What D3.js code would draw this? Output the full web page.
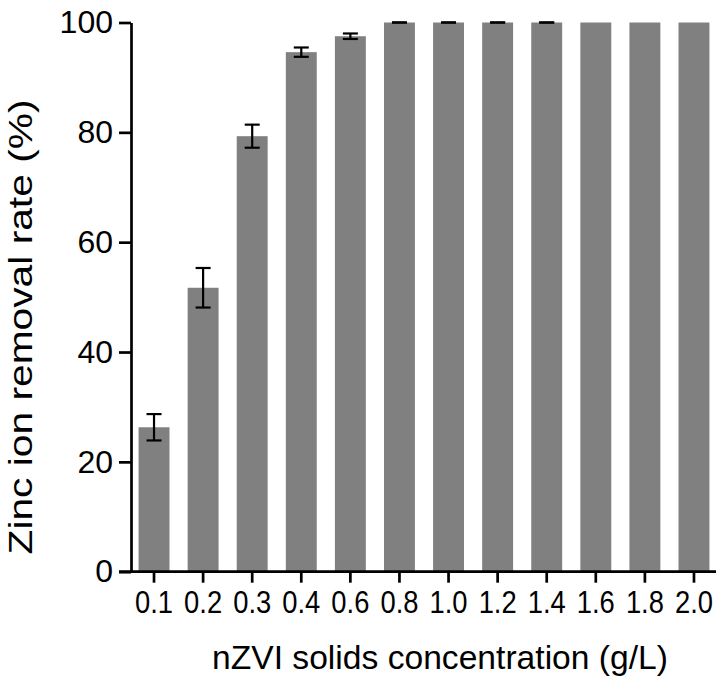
<!DOCTYPE html>
<html>
<head>
<meta charset="utf-8">
<script src="https://cdn.jsdelivr.net/npm/d3@7"></script>
<style>
  html, body { margin: 0; padding: 0; background: #fff; }
  svg { display: block; font-family: "Liberation Sans", Arial, sans-serif; }
</style>
</head>
<body>
<div id="chart"></div>
<script>
// nZVI dose vs zinc removal — bar chart with error bars

const doses = ['0.1', '0.2', '0.3', '0.4', '0.6', '0.8', '1.0', '1.2', '1.4', '1.6', '1.8', '2.0'];
const removal = [26.3, 51.7, 79.3, 94.6, 97.5, 100, 100, 100, 100, 100, 100, 100];
const errors = [2.4, 3.6, 2.1, 0.85, 0.5, 0, 0, 0, 0, null, null, null];
const yTicks = [0, 20, 40, 60, 80, 100];

const width = 727, height = 683;
const font = '"Liberation Sans", Arial, sans-serif';

const svg = d3.select('#chart').append('svg')
  .attr('width', width)
  .attr('height', height);

const y = d3.scaleLinear().domain([0, 100]).range([571.7, 22.5]);
const x = d3.scaleBand().domain(doses).range([120.4, 727.6]).padding(0.37);

// bars
svg.append('g').selectAll('rect')
  .data(doses)
  .join('rect')
  .attr('x', d => x(d))
  .attr('width', x.bandwidth())
  .attr('y', (d, i) => y(removal[i]))
  .attr('height', (d, i) => y(0) - y(removal[i]))
  .attr('fill', '#808080');

// error bars
const capW = 15;
const eb = svg.append('g').attr('stroke', '#000').attr('stroke-width', 2.2)
  .selectAll('g')
  .data(doses.map((d, i) => ({ d, v: removal[i], e: errors[i] })).filter(o => o.e != null))
  .join('g')
  .attr('transform', o => `translate(${x(o.d) + x.bandwidth() / 2},0)`);
eb.append('line')
  .attr('y1', o => y(o.v - o.e)).attr('y2', o => y(o.v + o.e));
eb.append('line')
  .attr('x1', -capW / 2).attr('x2', capW / 2)
  .attr('y1', o => y(o.v + o.e)).attr('y2', o => y(o.v + o.e));
eb.append('line')
  .attr('x1', -capW / 2).attr('x2', capW / 2)
  .attr('y1', o => y(o.v - o.e)).attr('y2', o => y(o.v - o.e));

// y axis
const yAxis = svg.append('g')
  .attr('transform', 'translate(131,0)')
  .call(d3.axisLeft(y).tickValues(yTicks).tickSize(12).tickSizeOuter(0).tickPadding(6));
yAxis.select('.domain').attr('stroke-width', 2.7);
yAxis.selectAll('.tick line').attr('stroke-width', 2.7);
yAxis.selectAll('.tick text')
  .attr('font-size', 32)
  .attr('fill', '#000')
  .attr('font-family', font);

// x axis
const xAxis = svg.append('g')
  .attr('transform', `translate(0,${y(0)})`)
  .call(d3.axisBottom(x).tickSize(11).tickSizeOuter(0).tickPadding(8));
xAxis.select('.domain').remove();
xAxis.append('line')
  .attr('x1', 119).attr('x2', 716)
  .attr('stroke', '#000').attr('stroke-width', 2.7);
xAxis.selectAll('.tick line').attr('stroke-width', 2.7);
xAxis.selectAll('.tick text')
  .attr('font-size', 32)
  .attr('fill', '#000')
  .attr('font-family', font)
  .attr('textLength', 38)
  .attr('lengthAdjust', 'spacingAndGlyphs');

// axis titles
svg.append('text')
  .attr('x', 440).attr('y', 669)
  .attr('text-anchor', 'middle')
  .attr('font-size', 33)
  .attr('textLength', 456)
  .attr('lengthAdjust', 'spacingAndGlyphs')
  .text('nZVI solids concentration (g/L)');

svg.append('text')
  .attr('transform', 'translate(32,327) rotate(-90)')
  .attr('text-anchor', 'middle')
  .attr('font-size', 33)
  .attr('textLength', 455)
  .attr('lengthAdjust', 'spacingAndGlyphs')
  .text('Zinc ion removal rate (%)');
</script>
</body>
</html>
